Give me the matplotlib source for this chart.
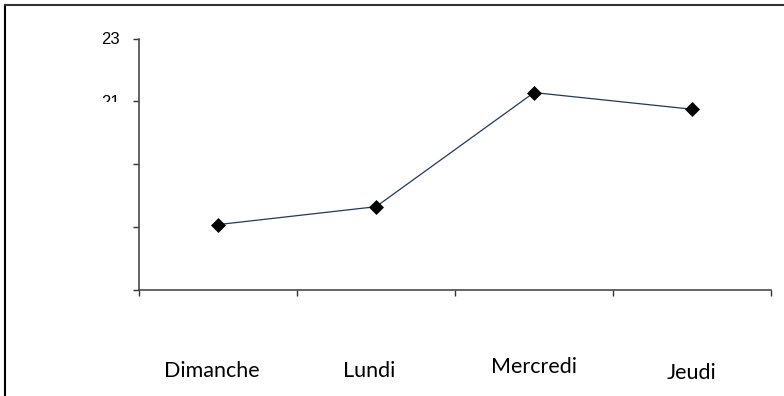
import matplotlib
matplotlib.use("Agg")
import matplotlib.pyplot as plt
from matplotlib.lines import Line2D
from matplotlib.transforms import Bbox, ScaledTranslation

days = ["Dimanche", "Lundi", "Mercredi", "Jeudi"]
values = [17.08, 17.65, 21.28, 20.75]
y_ticks = [15, 17, 19, 21, 23]
y_tick_labels = ["", "", "", "21", "23"]

# small per-label shifts (points) for the day names under the axis
label_shift = [(-4.5, 0), (-5, 0), (0, 2.5), (-0.5, -1.5)]

fig = plt.figure(figsize=(7.84, 3.96), dpi=100)
ax = fig.add_axes([139 / 784, 1 - 290 / 396, 632 / 784, 251.5 / 396])

x = list(range(len(days)))
ax.plot(x, values, color="#1f3a5f", lw=0.9, marker="D", ms=7.4,
        mfc="black", mec="black", mew=0.5, zorder=3)

ax.set_xlim(-0.5, len(days) - 0.5)
ax.set_ylim(y_ticks[0], y_ticks[-1])
ax.set_xticks([i - 0.5 for i in range(len(days) + 1)])
ax.set_xticklabels([])
ax.set_yticks(y_ticks)
ax.set_yticklabels(y_tick_labels, fontsize=12, family="Liberation Sans")

for s in ["top", "right"]:
    ax.spines[s].set_visible(False)
for s in ["left", "bottom"]:
    ax.spines[s].set_color("#4a4a4a")
    ax.spines[s].set_linewidth(1.2)
ax.tick_params(axis="both", direction="out", length=4, width=1, color="#333333")
ax.tick_params(axis="y", pad=10)

# the "21" label is cut off along its lower half
for lab in ax.get_yticklabels():
    if lab.get_text() == "21":
        lab.set_clip_box(Bbox([[0, 396 - 101.5], [784, 396]]))
        lab.set_clip_on(True)

# day names well below the axis
for i, (name, (dx, dy)) in enumerate(zip(days, label_shift)):
    tr = ax.get_xaxis_transform() + ScaledTranslation(dx / 72, dy / 72, fig.dpi_scale_trans)
    ax.text(i, -0.345, name, transform=tr, ha="center", va="baseline",
            fontsize=15.5, family="Lato", color="black")

# outer frame (left and top edges only)
fig.add_artist(Line2D([4.5 / 784, 4.5 / 784], [0, 1 - 4.5 / 396], color="black", lw=1.5))
fig.add_artist(Line2D([4.5 / 784, 1], [1 - 5 / 396, 1 - 5 / 396], color="#333333", lw=1.5))

fig.savefig("out.png", dpi=100)
